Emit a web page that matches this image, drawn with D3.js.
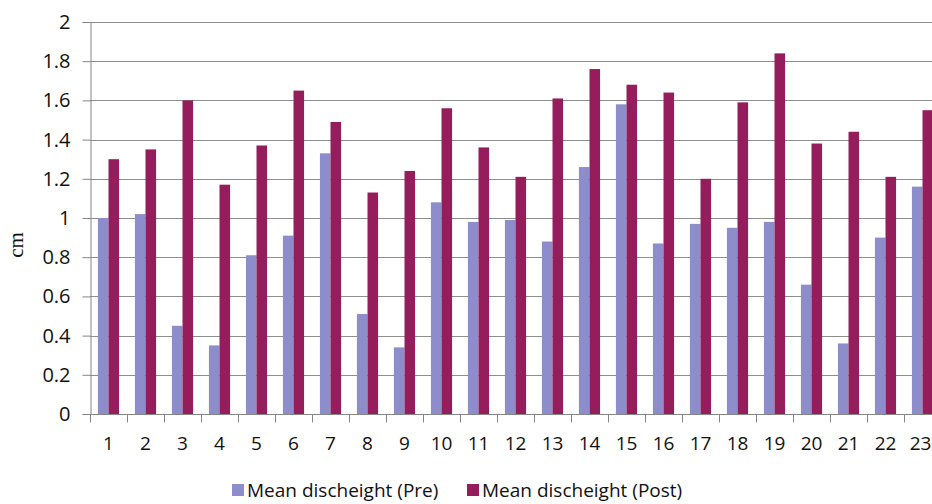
<!DOCTYPE html>
<html>
<head>
<meta charset="utf-8">
<script src="https://cdn.jsdelivr.net/npm/d3@7"></script>
<style>
  body { margin: 0; background: #fff; }
  svg { display: block; }
</style>
</head>
<body>
<div id="chart"></div>
<script>
const categories = ["1","2","3","4","5","6","7","8","9","10","11","12","13","14","15","16","17","18","19","20","21","22","23"];
const preValues = [1.00, 1.02, 0.45, 0.35, 0.81, 0.91, 1.33, 0.51, 0.34, 1.08, 0.98, 0.99, 0.88, 1.26, 1.58, 0.87, 0.97, 0.95, 0.98, 0.66, 0.36, 0.90, 1.16];
const postValues = [1.30, 1.35, 1.60, 1.17, 1.37, 1.65, 1.49, 1.13, 1.24, 1.56, 1.36, 1.21, 1.61, 1.76, 1.68, 1.64, 1.20, 1.59, 1.84, 1.38, 1.44, 1.21, 1.55];
const seriesNames = ["Mean discheight (Pre)", "Mean discheight (Post)"];
const yTicks = [0, 0.2, 0.4, 0.6, 0.8, 1, 1.2, 1.4, 1.6, 1.8, 2];

const width = 932;
const height = 504;
const colors = ["#8c8dca", "#961d5c"];

const svg = d3.select("#chart")
    .append("svg")
    .attr("width", width)
    .attr("height", height);

// plot runs off the right edge in the original, so the range goes past 932
const x = d3.scaleBand()
    .domain(categories)
    .range([90, 941])
    .paddingInner(0)
    .paddingOuter(0);

const y = d3.scaleLinear()
    .domain([0, 2])
    .range([414, 22]);

const x1 = d3.scaleBand()
    .domain([0, 1])
    .range([0, x.bandwidth()])
    .paddingOuter(0.75)
    .paddingInner(0);

// gridlines
svg.append("g")
    .selectAll("line")
    .data(yTicks.filter(d => d > 0))
    .enter()
    .append("line")
    .attr("x1", 90)
    .attr("x2", width)
    .attr("y1", d => Math.round(y(d)) + 0.5)
    .attr("y2", d => Math.round(y(d)) + 0.5)
    .attr("stroke", "#8e8e8e")
    .attr("stroke-width", 1);

// bars
const groups = svg.append("g")
    .selectAll("g")
    .data(categories)
    .enter()
    .append("g")
    .attr("transform", d => `translate(${x(d)},0)`);

groups.selectAll("rect")
    .data((d, i) => [preValues[i], postValues[i]])
    .enter()
    .append("rect")
    .attr("x", (d, j) => x1(j))
    .attr("width", x1.bandwidth())
    .attr("y", d => y(d))
    .attr("height", d => y(0) - y(d))
    .attr("fill", (d, j) => colors[j]);

// y axis
const yAxis = svg.append("g")
    .attr("transform", "translate(90.5,0)")
    .call(d3.axisLeft(y).tickValues(yTicks).tickSize(8).tickPadding(12).tickFormat(d3.format("")));

// x axis
const xAxis = svg.append("g")
    .attr("transform", `translate(0,${Math.round(y(0)) + 0.5})`)
    .call(d3.axisBottom(x).tickSize(0).tickPadding(22));

// Excel style ticks between categories
xAxis.selectAll(".between")
    .data(d3.range(categories.length + 1))
    .enter()
    .append("line")
    .attr("class", "between")
    .attr("x1", i => Math.round(90 + i * x.step()) + 0.5)
    .attr("x2", i => Math.round(90 + i * x.step()) + 0.5)
    .attr("y1", 0)
    .attr("y2", 8)
    .attr("stroke", "#868686");

[yAxis, xAxis].forEach(a => {
    a.select(".domain").attr("stroke", "#868686");
    a.selectAll(".tick line").attr("stroke", "#868686");
    a.selectAll("text")
        .attr("fill", "#111")
        .style("font-family", "'Open Sans', sans-serif")
        .style("font-size", "20px");
});

xAxis.selectAll("text").style("font-size", "19px");
// last label sits at the clipped edge, pull it in a touch
xAxis.selectAll(".tick").filter(d => d === "23").select("text").attr("dx", "-2");

xAxis.select(".domain").attr("d", `M90,0H${width}`);

// y axis title
svg.append("text")
    .attr("transform", "translate(23,245) rotate(-90)")
    .attr("text-anchor", "middle")
    .style("font-family", "'Liberation Serif', serif")
    .style("font-size", "21px")
    .attr("fill", "#111")
    .text("cm");

// legend
const legend = svg.append("g")
    .attr("class", "legend");

const legendX = [232, 467];

legend.selectAll("rect")
    .data(seriesNames)
    .enter()
    .append("rect")
    .attr("x", (d, i) => legendX[i])
    .attr("y", 484)
    .attr("width", 12)
    .attr("height", 12)
    .attr("fill", (d, i) => colors[i]);

legend.selectAll("text")
    .data(seriesNames)
    .enter()
    .append("text")
    .attr("x", (d, i) => legendX[i] + 15)
    .attr("y", 497)
    .style("font-family", "'Open Sans', sans-serif")
    .style("font-size", "19px")
    .attr("fill", "#111")
    .text(d => d);
</script>
</body>
</html>
